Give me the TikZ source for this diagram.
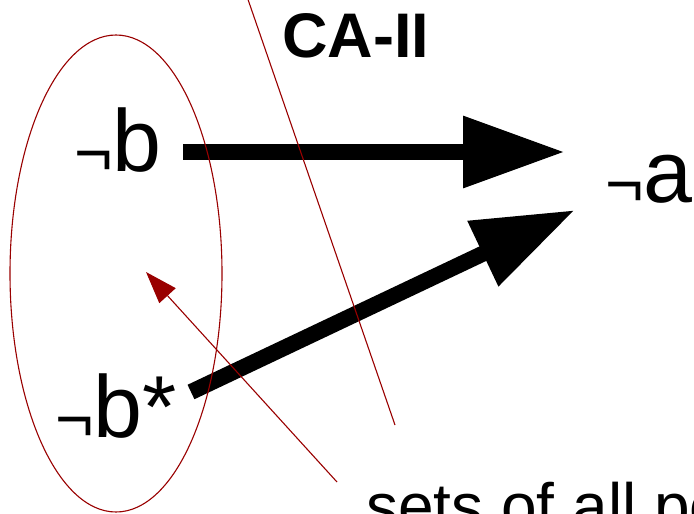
\documentclass[tikz,border=0pt]{standalone}
\usepackage{fontspec}
\usepackage{graphicx}
\setmainfont{Liberation Sans}
\usetikzlibrary{arrows.meta}
\definecolor{dred}{RGB}{153,0,0}
\newcommand{\nneg}{\raisebox{-4pt}{\scalebox{0.75}{¬}}}
\tikzset{
  bigtext/.style={inner sep=0pt, anchor=base west, font=\fontsize{88}{88}\selectfont},
  titletext/.style={inner sep=0pt, anchor=base west, font=\fontsize{63}{63}\selectfont\bfseries},
  notetext/.style={inner sep=0pt, anchor=base west, font=\fontsize{64}{64}\selectfont},
  bigarrow/.style={line width=16pt, -{Triangle[length=102pt 0 0, width=68pt 0 0]}},
  thinred/.style={dred, line width=1.1pt},
  redarrow/.style={thinred, -{Triangle[length=32pt 0 0, width=22pt 0 0]}},
}
\begin{document}
\begin{tikzpicture}[x=1pt, y=-1pt]
\useasboundingbox (0,0) rectangle (694,514);
\clip (0,0) rectangle (694,514);
% texts
\node[bigtext] (nb) at (74,171) {\nneg b};
\node[bigtext] (nbs) at (55,437) {\nneg b*};
\node[bigtext] (na) at (605,202) {\nneg a};
\node[titletext] (ca) at (282,57) {CA-II};
\node[notetext] (note) at (366,528) {sets of all po};
% black arrows
\coordinate (a1s) at (183,152);
\coordinate (a1e) at (565,152);
\coordinate (a2s) at (191,392);
\coordinate (a2e) at (575,210);
\draw[bigarrow] (a1s) -- (a1e);
\draw[bigarrow] (a2s) -- (a2e);
% red shapes
\draw[thinred] (116,273.5) ellipse [x radius=106, y radius=238.5];
\coordinate (l1) at (243,-15);
\coordinate (l2) at (395,425);
\draw[thinred] (l1) -- (l2);
\coordinate (r1) at (337,482);
\coordinate (r2) at (146,272);
\draw[redarrow] (r1) -- (r2);
\end{tikzpicture}
\end{document}
